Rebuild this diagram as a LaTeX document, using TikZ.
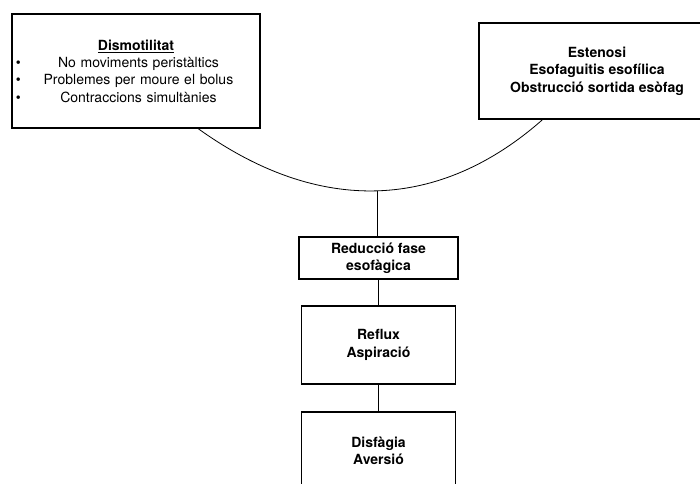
\documentclass[tikz,border=0pt]{standalone}
\usepackage{fontspec}
\setmainfont{TeX Gyre Heros}
\usepackage{tikz}
\usetikzlibrary{calc}

% bullet at the left edge, text centred in the rest of the line
\newcommand{\bulletline}[1]{\makebox[\hsize][l]{\textbullet\hfill #1\hfill}}

\begin{document}
\begin{tikzpicture}[
  x=0.75pt, y=-0.75pt,
  box/.style={draw, line width=1.2pt, align=center, inner sep=3pt,
    font=\fontsize{10.5}{13}\selectfont},
  boldbox/.style={box, font=\fontsize{10.5}{13}\selectfont\bfseries},
  link/.style={line width=0.6pt},
]
\useasboundingbox (0,0) rectangle (700,483);

% === causes (top) ===
\node[box, minimum width=186pt, minimum height=85.5pt, text width=180pt]
  (dism) at (136,71) {%
  \textbf{\underline{Dismotilitat}}\\
  \bulletline{No moviments peristàltics}\\
  \bulletline{Problemes per moure el bolus}\\
  \bulletline{Contraccions simultànies}};

\node[boldbox, minimum width=177pt, minimum height=72pt] (esten) at (597,71)
  {Estenosi\\ Esofaguitis esofílica\\ Obstrucció sortida esòfag};

% === consequences (bottom) ===
\node[boldbox, minimum width=119.25pt, minimum height=31.5pt] (reduc)
  at (378.5,258) {Reducció fase\\ esofàgica};
\node[boldbox, minimum width=115.5pt, minimum height=58.5pt] (reflux)
  at (378.5,345) {Reflux\\ Aspiració};
\node[boldbox, minimum width=115.5pt, minimum height=58.5pt] (disf)
  at (378.5,451) {Disfàgia\\ Aversió};

% joining curve
\draw[link] ($(dism.south west)!0.75!(dism.south east)$)
  .. controls (320,216) and (440,210) ..
  ($(esten.south west)!0.27!(esten.south east)$) coordinate[pos=0.5] (join);
\draw[link] (join) -- (join |- reduc.north);
\draw[link] (reduc) -- (reflux);
\draw[link] (reflux) -- (disf);

\end{tikzpicture}
\end{document}
